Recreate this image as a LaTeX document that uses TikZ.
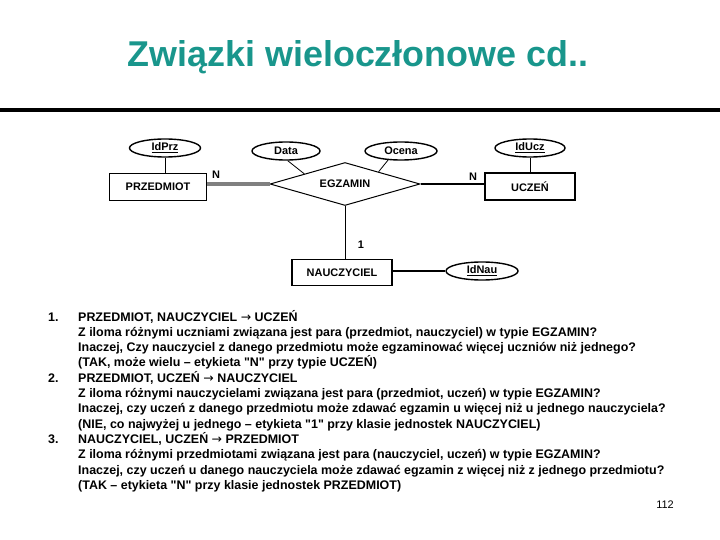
\documentclass[tikz,border=0pt]{standalone}
\usepackage{fontspec}
\setmainfont{Liberation Sans}
\newfontfamily\strzalkafont{DejaVu Sans}
\usetikzlibrary{shapes.geometric}
\definecolor{slidetitle}{RGB}{25,150,140}
\newcommand\titlefont{\fontsize{36}{40}\selectfont\bfseries}
\newcommand\diagfont{\fontsize{11}{13}\selectfont\bfseries}
\newcommand\listfont{\fontsize{12.5}{15}\selectfont\bfseries}
\newcommand\strz{{\strzalkafont\mdseries →}}
\newcommand\cudz[1]{\textquotedbl#1\textquotedbl}
\begin{document}
\begin{tikzpicture}[x=1bp,y=-1bp,
  encja/.style={draw,line width=1.3bp,minimum height=27bp,inner sep=0pt,font=\diagfont},
  atrybut/.style={draw,ellipse,line width=1.4bp,minimum height=18bp,inner sep=0pt,font=\diagfont},
  zwiazek/.style={draw,diamond,aspect=3.5,line width=1bp,minimum width=150bp,minimum height=43bp,inner sep=0pt,font=\diagfont},
  etykieta/.style={inner sep=0pt,font=\diagfont},
  wiersz/.style={anchor=base west,inner sep=0pt,font=\listfont}]
\useasboundingbox (0,0) rectangle (720,540);
\node[anchor=base,text=slidetitle,font=\titlefont] (tytul) at (358,67) {Związki wieloczłonowe cd..};
\draw[line width=4bp] (0,110.5) -- (720,110.5);
% encje i zwiazek
\node[encja,minimum width=97bp] (przedmiot) at (158,187) {PRZEDMIOT};
\node[encja,minimum width=90bp] (uczen) at (530,186.5) {UCZEŃ};
\node[encja,minimum width=100bp,minimum height=26bp] (nauczyciel) at (342,272.5) {NAUCZYCIEL};
\node[zwiazek] (egzamin) at (345,184) {EGZAMIN};
% atrybuty
\node[atrybut,minimum width=71bp] (idprz) at (165,148) {\underline{IdPrz}};
\node[atrybut,minimum width=68bp] (data) at (286,151) {Data};
\node[atrybut,minimum width=72bp] (ocena) at (401,151) {Ocena};
\node[atrybut,minimum width=70bp] (iducz) at (530,148) {\underline{IdUcz}};
\node[atrybut,minimum width=72bp] (idnau) at (482,271) {\underline{IdNau}};
\draw[line width=0.8bp] (idprz.south) -- (idprz.south |- przedmiot.north);
\draw[line width=0.8bp] (data.-80) -- (egzamin.166);
\draw[line width=0.8bp] (ocena.215) -- (egzamin.20);
\draw[line width=0.8bp] (iducz.south) -- (iducz.south |- uczen.north);
\draw[gray,line width=4bp] (egzamin.west -| przedmiot.east) -- (egzamin.west);
\draw[line width=1.6bp] (egzamin.east) -- (egzamin.east -| uczen.west);
\draw[line width=0.8bp] (egzamin.south) -- (egzamin.south |- nauczyciel.north);
\draw[line width=1.6bp] (idnau.west -| nauczyciel.east) -- (idnau.west);
\node[etykieta] (kp) at (216,175) {N};
\node[etykieta] (ku) at (473,177) {N};
\node[etykieta] (kn) at (361,245) {1};
% lista
\node[wiersz] (nr1) at (48,321) {1.};
\node[wiersz] (w1) at (78,321) {PRZEDMIOT, NAUCZYCIEL \strz{} UCZEŃ};
\node[wiersz] (w2) at (78,336.3) {Z iloma różnymi uczniami związana jest para (przedmiot, nauczyciel) w typie EGZAMIN?};
\node[wiersz] (w3) at (78,351.6) {Inaczej, Czy nauczyciel z danego przedmiotu może egzaminować więcej uczniów niż jednego?};
\node[wiersz] (w4) at (78,366.9) {(TAK, może wielu – etykieta \cudz{N} przy typie UCZEŃ)};
\node[wiersz] (nr2) at (48,382.2) {2.};
\node[wiersz] (w5) at (78,382.2) {PRZEDMIOT, UCZEŃ \strz{} NAUCZYCIEL};
\node[wiersz] (w6) at (78,397.5) {Z iloma różnymi nauczycielami związana jest para (przedmiot, uczeń) w typie EGZAMIN?};
\node[wiersz] (w7) at (78,412.8) {Inaczej, czy uczeń z danego przedmiotu może zdawać egzamin u więcej niż u jednego nauczyciela?};
\node[wiersz] (w8) at (78,428.1) {(NIE, co najwyżej u jednego – etykieta \cudz{1} przy klasie jednostek NAUCZYCIEL)};
\node[wiersz] (nr3) at (48,443.4) {3.};
\node[wiersz] (w9) at (78,443.4) {NAUCZYCIEL, UCZEŃ \strz{} PRZEDMIOT};
\node[wiersz] (w10) at (78,458.7) {Z iloma różnymi przedmiotami związana jest para (nauczyciel, uczeń) w typie EGZAMIN?};
\node[wiersz] (w11) at (78,474) {Inaczej, czy uczeń u danego nauczyciela może zdawać egzamin z więcej niż z jednego przedmiotu?};
\node[wiersz] (w12) at (78,489.3) {(TAK – etykieta \cudz{N} przy klasie jednostek PRZEDMIOT)};
\node[font=\fontsize{11}{13}\selectfont] (strona) at (665,505) {112};
\end{tikzpicture}
\end{document}
